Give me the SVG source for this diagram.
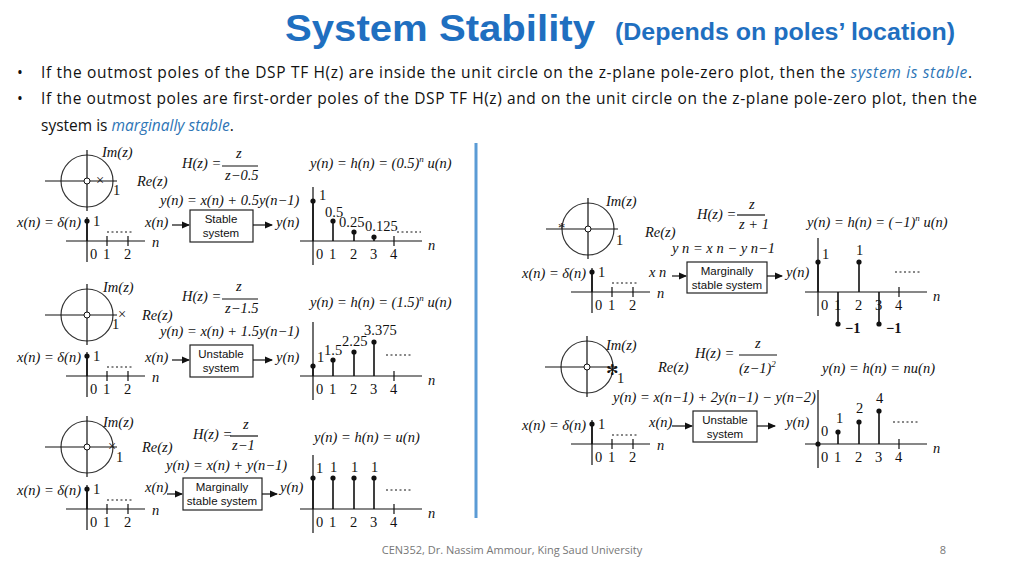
<svg xmlns="http://www.w3.org/2000/svg" xmlns:xlink="http://www.w3.org/1999/xlink" width="1024" height="576" viewBox="0 0 1024 576">
<style>
.m{font-family:"Liberation Serif",serif;font-size:14.5px;font-style:italic;fill:#111}
.r{font-family:"Liberation Serif",serif;font-size:14.5px;fill:#111}
.s{font-family:"Liberation Sans",sans-serif;font-size:11.5px;fill:#111;text-anchor:middle}
.ax{stroke:#111;stroke-width:1.2;fill:none}
.st{stroke:#111;stroke-width:1.6}
.dt{stroke:#111;stroke-width:1;stroke-dasharray:2 2.5}
.bx{fill:#fff;stroke:#222;stroke-width:1.2}
.cir{fill:none;stroke:#333;stroke-width:1.2}
.body{font-family:"Open Sans","Noto Sans",sans-serif;font-size:15.5px;fill:#111}
.bl{fill:#2e75b6;font-style:italic}
</style>
<defs>
<marker id="ar" markerWidth="8" markerHeight="8" refX="7" refY="4" orient="auto" markerUnits="userSpaceOnUse"><path d="M0,0.5 L8,4 L0,7.5 Z" fill="#111"/></marker>
<g id="imp">
<path class="ax" d="M87,217V262M66,241H145M107,236V246M128,236V246"/>
<line class="st" x1="87" y1="221" x2="87" y2="241"/><circle cx="87" cy="221" r="2.6" fill="#111"/>
<text class="r" x="93" y="226">1</text>
<line class="dt" x1="107" y1="232" x2="134" y2="232"/>
<text class="m" x="152" y="247">n</text>
<text class="r" x="90" y="259">0</text><text class="r" x="103" y="259">1</text><text class="r" x="124" y="259">2</text>
<text class="m" x="81" y="227" text-anchor="end">x(n) = δ(n)</text>
</g>
<g id="out">
<path class="ax" d="M313,187V265M300,241H422M394,236V246"/>
<text class="m" x="428" y="250">n</text>
<text class="r" x="316" y="259">0</text><text class="r" x="329" y="259">1</text><text class="r" x="350" y="259">2</text><text class="r" x="370" y="259">3</text><text class="r" x="390" y="259">4</text>
</g>
<g id="pz">
<circle class="cir" cx="0" cy="0" r="26"/>
<path class="ax" d="M-42,0H30M0,-31V30"/>
<circle cx="0" cy="0" r="3" fill="#fff" stroke="#111" stroke-width="1"/>
</g>
</defs>

<text x="285" y="41" font-family="Liberation Sans,sans-serif" font-weight="bold" font-size="36" fill="#1f6fc0" textLength="310" lengthAdjust="spacingAndGlyphs">System Stability</text>
<text x="615" y="40" font-family="Liberation Sans,sans-serif" font-weight="bold" font-size="23" fill="#1f6fc0" textLength="340" lengthAdjust="spacingAndGlyphs">(Depends on poles’ location)</text>
<text class="body" x="17" y="78">•</text>
<text class="body" x="41" y="78" textLength="931">If the outmost poles of the DSP TF H(z) are inside the unit circle on the z-plane pole-zero plot, then the <tspan class="bl">system is stable</tspan>.</text>
<text class="body" x="17" y="104">•</text>
<text class="body" x="41" y="104" textLength="936">If the outmost poles are first-order poles of the DSP TF H(z) and on the unit circle on the z-plane pole-zero plot, then the</text>
<text class="body" x="41" y="131">system is <tspan class="bl">marginally stable</tspan>.</text>

<line x1="476" y1="143" x2="476" y2="518" stroke="#5b9bd5" stroke-width="3"/>

<g id="panel-L1">
<use xlink:href="#pz" transform="translate(87,181)"/>
<text class="r" x="96" y="185" font-size="13">×</text>
<text class="m" x="102" y="157">Im(z)</text><text class="m" x="137" y="186">Re(z)</text><text class="r" x="113" y="195">1</text>
<text class="m" x="182" y="168">H(z) =</text><text class="m" x="236" y="158">z</text><line class="ax" x1="222" y1="166" x2="258" y2="166"/><text class="m" x="225" y="180">z−0.5</text>
<text class="m" x="310" y="168">y(n) = h(n) = (0.5)<tspan dy="-6" font-size="9">n</tspan><tspan dy="6"> u(n)</tspan></text>
<text class="m" x="160" y="205">y(n) = x(n) + 0.5y(n−1)</text>
<use xlink:href="#imp"/>
<text class="m" x="145" y="227">x(n)</text>
<line class="ax" x1="172" y1="225" x2="189" y2="225" marker-end="url(#ar)"/>
<rect class="bx" x="190" y="210" width="63" height="32"/>
<text class="s" x="221" y="223">Stable</text><text class="s" x="221" y="237">system</text>
<line class="ax" x1="253" y1="225" x2="272" y2="225" marker-end="url(#ar)"/>
<text class="m" x="276" y="227">y(n)</text>
<use xlink:href="#out"/>
<path class="st" d="M313,201V241M333,221V241M354,232V241M374,237V241"/>
<g fill="#111"><circle cx="313" cy="201" r="2.6"/><circle cx="333" cy="221" r="2.6"/><circle cx="354" cy="232" r="2.6"/><circle cx="374" cy="237" r="2.6"/></g>
<text class="r" x="319" y="200">1</text><text class="r" x="325" y="217" font-size="13.5">0.5</text><text class="r" x="339" y="227" font-size="13.5">0.25</text><text class="r" x="365" y="231" font-size="13.5">0.125</text>
<line class="dt" x1="397" y1="232" x2="421" y2="232"/>
</g>

<g id="panel-L2" transform="translate(0,135)">
<use xlink:href="#pz" transform="translate(87,180)"/>
<text class="r" x="118" y="184" font-size="13">×</text>
<text class="m" x="103" y="157">Im(z)</text><text class="m" x="142" y="185">Re(z)</text><text class="r" x="112" y="194">1</text>
<text class="m" x="182" y="166">H(z) =</text><text class="m" x="236" y="156">z</text><line class="ax" x1="222" y1="164" x2="258" y2="164"/><text class="m" x="225" y="178">z−1.5</text>
<text class="m" x="310" y="172">y(n) = h(n) = (1.5)<tspan dy="-6" font-size="9">n</tspan><tspan dy="6"> u(n)</tspan></text>
<text class="m" x="160" y="201">y(n) = x(n) + 1.5y(n−1)</text>
<use xlink:href="#imp"/>
<text class="m" x="145" y="227">x(n)</text>
<line class="ax" x1="172" y1="225" x2="189" y2="225" marker-end="url(#ar)"/>
<rect class="bx" x="190" y="210" width="63" height="32"/>
<text class="s" x="221" y="223">Unstable</text><text class="s" x="221" y="237">system</text>
<line class="ax" x1="253" y1="225" x2="272" y2="225" marker-end="url(#ar)"/>
<text class="m" x="276" y="227">y(n)</text>
<use xlink:href="#out"/>
<path class="st" d="M313,231V241M333,225V241M354,217V241M374,207V241"/>
<g fill="#111"><circle cx="313" cy="231" r="2.6"/><circle cx="333" cy="225" r="2.6"/><circle cx="354" cy="217" r="2.6"/><circle cx="374" cy="207" r="2.6"/></g>
<text class="r" x="317" y="227">1</text><text class="r" x="324" y="220">1.5</text><text class="r" x="342" y="211">2.25</text><text class="r" x="364" y="200">3.375</text>
<line class="dt" x1="386" y1="220" x2="413" y2="220"/>
</g>

<g id="panel-L3" transform="translate(0,268)">
<use xlink:href="#pz" transform="translate(87,179)"/>
<text class="r" x="108" y="183" font-size="13">×</text>
<text class="m" x="103" y="159">Im(z)</text><text class="m" x="142" y="184">Re(z)</text><text class="r" x="116" y="194">1</text>
<text class="m" x="193" y="171">H(z) =</text><text class="m" x="243" y="161">z</text><line class="ax" x1="230" y1="168" x2="258" y2="168"/><text class="m" x="232" y="182">z−1</text>
<text class="m" x="314" y="174">y(n) = h(n) = u(n)</text>
<text class="m" x="166" y="202">y(n) = x(n) + y(n−1)</text>
<use xlink:href="#imp"/>
<text class="m" x="145" y="224">x(n)</text>
<line class="ax" x1="167" y1="226" x2="182" y2="226" marker-end="url(#ar)"/>
<rect class="bx" x="183" y="210" width="79" height="32"/>
<text class="s" x="222" y="223">Marginally</text><text class="s" x="222" y="237">stable system</text>
<line class="ax" x1="262" y1="226" x2="277" y2="226" marker-end="url(#ar)"/>
<text class="m" x="280" y="224">y(n)</text>
<use xlink:href="#out"/>
<path class="st" d="M313,210V241M333,210V241M354,210V241M374,210V241"/>
<g fill="#111"><circle cx="313" cy="210" r="2.6"/><circle cx="333" cy="210" r="2.6"/><circle cx="354" cy="210" r="2.6"/><circle cx="374" cy="210" r="2.6"/></g>
<text class="r" x="316" y="205">1</text><text class="r" x="330" y="204">1</text><text class="r" x="351" y="204">1</text><text class="r" x="371" y="204">1</text>
<line class="dt" x1="386" y1="222" x2="413" y2="222"/>
</g>

<g id="panel-R1" transform="translate(505,51)">
<use xlink:href="#pz" transform="translate(83,178)"/>
<text class="r" x="53" y="182" font-size="13">*</text>
<text class="m" x="101" y="155">Im(z)</text><text class="m" x="140" y="186">Re(z)</text><text class="r" x="111" y="194">1</text>
<text class="m" x="192" y="168">H(z) =</text><text class="m" x="244" y="158">z</text><line class="ax" x1="232" y1="164" x2="260" y2="164"/><text class="m" x="234" y="178">z + 1</text>
<text class="m" x="302" y="176">y(n) = h(n) = (−1)<tspan dy="-6" font-size="9">n</tspan><tspan dy="6"> u(n)</tspan></text>
<text class="m" x="167" y="202">y  n  = x  n  − y  n−1</text>
<use xlink:href="#imp"/>
<text class="m" x="144" y="226">x  n</text>
<line class="ax" x1="167" y1="225" x2="181" y2="225" marker-end="url(#ar)"/>
<rect class="bx" x="182" y="211" width="80" height="31"/>
<text class="s" x="222" y="224">Marginally</text><text class="s" x="222" y="238">stable system</text>
<line class="ax" x1="262" y1="225" x2="277" y2="225" marker-end="url(#ar)"/>
<text class="m" x="281" y="226">y(n)</text>
<use xlink:href="#out"/>
<path class="st" d="M313,211V241M333,241V273M354,211V241M374,241V273"/>
<g fill="#111"><circle cx="313" cy="211" r="2.6"/><circle cx="333" cy="273" r="2.6"/><circle cx="354" cy="211" r="2.6"/><circle cx="374" cy="273" r="2.6"/></g>
<text class="r" x="317" y="208">1</text><text class="r" x="351" y="204">1</text>
<text class="r" x="340" y="282" font-weight="bold">−1</text><text class="r" x="381" y="282" font-weight="bold">−1</text>
<line class="dt" x1="390" y1="221" x2="417" y2="221"/>
</g>

<g id="panel-R2" transform="translate(505,203)">
<use xlink:href="#pz" transform="translate(82,164)"/>
<text class="r" x="101" y="172" font-size="15">✻</text>
<text class="m" x="101" y="147">Im(z)</text><text class="m" x="153" y="169">Re(z)</text><text class="r" x="112" y="180">1</text>
<text class="m" x="190" y="155">H(z) =</text><text class="m" x="250" y="145">z</text><line class="ax" x1="234" y1="152" x2="272" y2="152"/><text class="m" x="234" y="170">(z−1)<tspan dy="-6" font-size="9">2</tspan></text>
<text class="m" x="317" y="170">y(n) = h(n) = nu(n)</text>
<text class="m" x="108" y="199">y(n) = x(n−1) + 2y(n−1) − y(n−2)</text>
<use xlink:href="#imp"/>
<text class="m" x="144" y="224">x(n)</text>
<line class="ax" x1="167" y1="223" x2="187" y2="223" marker-end="url(#ar)"/>
<rect class="bx" x="188" y="208" width="64" height="31"/>
<text class="s" x="220" y="221">Unstable</text><text class="s" x="220" y="235">system</text>
<line class="ax" x1="252" y1="223" x2="270" y2="223" marker-end="url(#ar)"/>
<text class="m" x="281" y="224">y(n)</text>
<use xlink:href="#out"/>
<path class="st" d="M333,229V241M354,219V241M374,208V241"/>
<g fill="#111"><circle cx="313" cy="241" r="2.6"/><circle cx="333" cy="229" r="2.6"/><circle cx="354" cy="219" r="2.6"/><circle cx="374" cy="208" r="2.6"/></g>
<text class="r" x="316" y="233">0</text><text class="r" x="331" y="220">1</text><text class="r" x="351" y="210">2</text><text class="r" x="371" y="200">4</text>
<line class="dt" x1="388" y1="219" x2="414" y2="219"/>
</g>

<text x="512" y="554" text-anchor="middle" font-family="Open Sans,Noto Sans,sans-serif" font-size="11" fill="#777">CEN352, Dr. Nassim Ammour, King Saud University</text>
<text x="943" y="554" text-anchor="middle" font-family="Open Sans,Noto Sans,sans-serif" font-size="11" fill="#777">8</text>
</svg>
